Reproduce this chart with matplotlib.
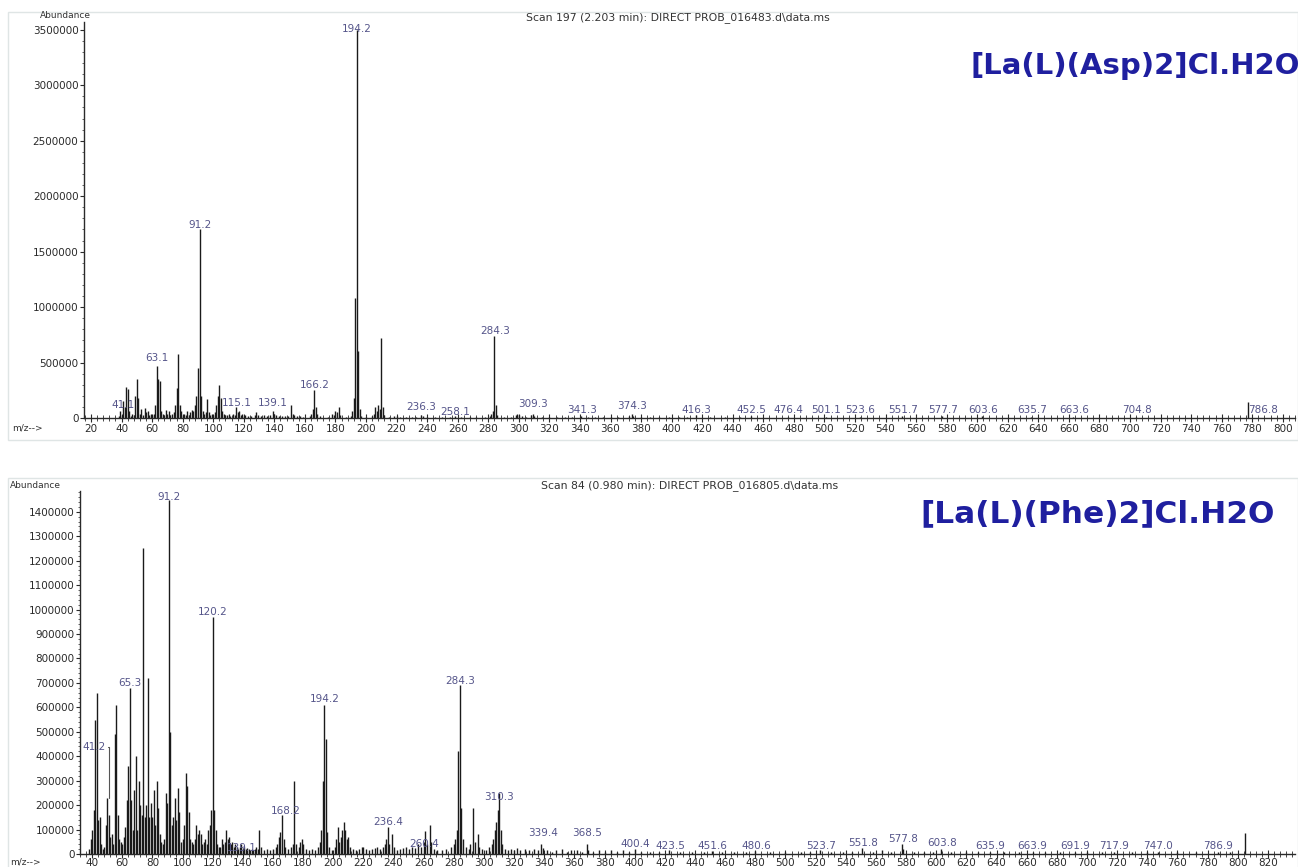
#!/usr/bin/env python3
"""Mass spectra of the two La(III) complexes, redrawn in ChemStation style."""

import matplotlib
matplotlib.use("Agg")
import matplotlib.pyplot as plt
from matplotlib.ticker import MultipleLocator, FormatStrFormatter
from matplotlib.patches import Rectangle

W, H = 1298, 867

# ---- [La(L)(Asp)2]Cl.H2O  (scan 197) ----
asp_title = "Scan 197 (2.203 min): DIRECT PROB_016483.d\\data.ms"
asp_name = "[La(L)(Asp)2]Cl.H2O"
asp_peaks = [
    (38, 20000), (39, 60000), (40, 30000), (41, 150000), (42, 100000), (43, 280000),
    (44, 260000), (45, 60000), (46, 20000), (47, 40000), (48, 30000), (49, 200000),
    (50, 350000), (51, 180000), (52, 40000), (53, 80000), (54, 30000), (55, 90000),
    (56, 50000), (57, 60000), (58, 30000), (59, 40000), (60, 30000), (61, 40000),
    (62, 120000), (63, 470000), (64, 350000), (65, 330000), (66, 60000), (67, 40000),
    (68, 30000), (69, 70000), (70, 40000), (71, 60000), (72, 30000), (73, 40000),
    (74, 50000), (75, 120000), (76, 270000), (77, 580000), (78, 120000), (79, 60000),
    (80, 30000), (81, 40000), (82, 30000), (83, 60000), (84, 30000), (85, 50000),
    (86, 70000), (87, 60000), (88, 120000), (89, 200000), (90, 450000), (91, 1700000),
    (92, 200000), (93, 60000), (94, 40000), (95, 50000), (96, 170000), (97, 50000),
    (98, 30000), (99, 40000), (100, 30000), (101, 50000), (102, 120000), (103, 200000),
    (104, 300000), (105, 180000), (106, 60000), (107, 40000), (108, 30000), (109, 30000),
    (110, 40000), (111, 20000), (113, 40000), (114, 30000), (115, 100000), (116, 50000),
    (117, 60000), (118, 30000), (119, 40000), (120, 20000), (121, 30000), (123, 15000),
    (125, 20000), (127, 30000), (128, 50000), (129, 30000), (131, 20000), (133, 25000),
    (135, 20000), (137, 30000), (139, 60000), (140, 40000), (141, 30000), (143, 15000),
    (145, 20000), (147, 15000), (149, 20000), (151, 120000), (152, 40000), (153, 30000),
    (155, 20000), (157, 15000), (159, 10000), (163, 20000), (164, 40000), (165, 80000),
    (166, 250000), (167, 100000), (168, 40000), (170, 15000), (175, 10000), (178, 40000),
    (179, 30000), (180, 60000), (181, 50000), (182, 100000), (183, 30000), (187, 10000),
    (190, 20000), (191, 60000), (192, 180000), (193, 1080000), (194, 3500000),
    (195, 600000), (196, 80000), (197, 20000), (200, 10000), (204, 20000), (205, 40000),
    (206, 100000), (207, 60000), (208, 120000), (209, 80000), (210, 720000),
    (211, 100000), (212, 30000), (215, 10000), (218, 20000), (220, 15000), (222, 10000),
    (226, 8000), (230, 10000), (233, 8000), (236, 30000), (237, 15000), (240, 10000),
    (245, 8000), (250, 10000), (255, 8000), (258, 15000), (262, 8000), (268, 10000),
    (272, 8000), (278, 10000), (281, 20000), (282, 40000), (283, 60000), (284, 740000),
    (285, 120000), (286, 30000), (290, 8000), (295, 10000), (298, 30000), (299, 40000),
    (300, 30000), (302, 15000), (305, 10000), (308, 30000), (309, 40000), (310, 20000),
    (315, 8000), (320, 10000), (325, 8000), (330, 10000), (335, 8000), (341, 15000),
    (345, 8000), (350, 10000), (355, 8000), (360, 10000), (365, 8000), (372, 20000),
    (374, 40000), (375, 20000), (380, 8000), (386, 8000), (392, 10000), (398, 8000),
    (405, 8000), (410, 10000), (416, 30000), (425, 8000), (435, 8000), (445, 8000),
    (452, 15000), (476, 10000), (501, 10000), (523, 10000), (551, 15000), (577, 15000),
    (603, 15000), (635, 10000), (663, 10000), (704, 10000), (777, 140000),
]
asp_labels = [
    ("41.1", 117000), ("63.1", 540000), ("91.2", 1740000), ("115.1", 135000),
    ("139.1", 135000), ("166.2", 297000), ("194.2", 3510000), ("236.3", 100000),
    ("258.1", 54000), ("284.3", 784000), ("309.3", 126000), ("341.3", 72000),
    ("374.3", 108000), ("416.3", 72000), ("452.5", 72000), ("476.4", 72000),
    ("501.1", 72000), ("523.6", 72000), ("551.7", 72000), ("577.7", 72000),
    ("603.6", 72000), ("635.7", 72000), ("663.6", 72000), ("704.8", 72000),
    ("786.8", 72000),
]

# ---- [La(L)(Phe)2]Cl.H2O  (scan 84) ----
phe_title = "Scan 84 (0.980 min): DIRECT PROB_016805.d\\data.ms"
phe_name = "[La(L)(Phe)2]Cl.H2O"
phe_peaks = [
    (38, 20000), (39, 60000), (40, 100000), (41, 180000), (42, 550000), (43, 660000),
    (44, 140000), (45, 150000), (46, 40000), (47, 20000), (48, 30000), (49, 120000),
    (50, 230000), (51, 160000), (52, 70000), (53, 80000), (54, 40000), (55, 490000),
    (56, 610000), (57, 160000), (58, 60000), (59, 50000), (60, 40000), (61, 70000),
    (62, 110000), (63, 220000), (64, 360000), (65, 680000), (66, 220000), (67, 100000),
    (68, 260000), (69, 400000), (70, 100000), (71, 300000), (72, 200000), (73, 160000),
    (74, 1250000), (75, 150000), (76, 200000), (77, 720000), (78, 150000), (79, 210000),
    (80, 150000), (81, 260000), (82, 120000), (83, 300000), (84, 190000), (85, 80000),
    (86, 50000), (87, 40000), (88, 60000), (89, 250000), (90, 210000), (91, 1450000),
    (92, 500000), (93, 120000), (94, 150000), (95, 230000), (96, 140000), (97, 270000),
    (98, 170000), (99, 50000), (100, 60000), (101, 120000), (102, 330000), (103, 280000),
    (104, 170000), (105, 60000), (106, 50000), (107, 40000), (108, 60000), (109, 120000),
    (110, 80000), (111, 100000), (112, 80000), (113, 40000), (114, 50000), (115, 60000),
    (116, 40000), (117, 100000), (118, 120000), (119, 180000), (120, 970000),
    (121, 180000), (122, 100000), (123, 40000), (124, 30000), (125, 30000), (126, 60000),
    (127, 40000), (128, 50000), (129, 100000), (130, 60000), (131, 70000), (132, 40000),
    (133, 50000), (134, 30000), (135, 40000), (136, 30000), (137, 20000), (138, 30000),
    (139, 40000), (140, 25000), (141, 30000), (142, 20000), (143, 25000), (144, 20000),
    (145, 15000), (146, 20000), (147, 15000), (148, 20000), (149, 30000), (150, 20000),
    (151, 100000), (152, 30000), (154, 15000), (156, 20000), (158, 15000), (160, 20000),
    (162, 30000), (163, 40000), (164, 70000), (165, 90000), (166, 160000), (167, 60000),
    (168, 30000), (170, 20000), (172, 30000), (173, 40000), (174, 300000), (175, 40000),
    (177, 30000), (178, 50000), (179, 60000), (180, 40000), (182, 20000), (184, 15000),
    (186, 20000), (188, 15000), (190, 30000), (191, 50000), (192, 100000), (193, 300000),
    (194, 610000), (195, 470000), (196, 90000), (197, 30000), (199, 15000), (201, 30000),
    (202, 60000), (203, 110000), (204, 50000), (205, 70000), (206, 100000), (207, 130000),
    (208, 100000), (209, 60000), (210, 70000), (211, 30000), (213, 20000), (215, 15000),
    (217, 20000), (219, 30000), (220, 30000), (222, 20000), (224, 15000), (226, 20000),
    (228, 25000), (229, 30000), (231, 20000), (233, 30000), (234, 40000), (235, 60000),
    (236, 110000), (237, 40000), (239, 80000), (240, 30000), (242, 15000), (244, 20000),
    (246, 25000), (248, 30000), (250, 20000), (252, 30000), (254, 25000), (256, 40000),
    (258, 30000), (260, 50000), (261, 95000), (262, 40000), (264, 120000), (265, 50000),
    (267, 20000), (269, 15000), (272, 15000), (275, 20000), (278, 30000), (280, 40000),
    (281, 60000), (282, 100000), (283, 420000), (284, 690000), (285, 190000),
    (286, 60000), (288, 30000), (290, 20000), (291, 40000), (293, 190000), (294, 50000),
    (296, 80000), (297, 30000), (299, 20000), (301, 15000), (303, 30000), (305, 40000),
    (306, 60000), (307, 100000), (308, 130000), (309, 180000), (310, 250000),
    (311, 100000), (312, 40000), (314, 20000), (316, 15000), (318, 20000), (320, 15000),
    (322, 25000), (324, 15000), (327, 20000), (330, 15000), (333, 20000), (336, 15000),
    (338, 40000), (339, 25000), (342, 15000), (345, 10000), (348, 15000), (352, 20000),
    (355, 10000), (358, 15000), (362, 15000), (365, 10000), (368, 40000), (369, 15000),
    (372, 10000), (376, 15000), (380, 10000), (384, 15000), (388, 10000), (392, 15000),
    (396, 10000), (400, 20000), (404, 10000), (410, 10000), (416, 8000), (423, 15000),
    (430, 8000), (438, 8000), (446, 8000), (451, 12000), (458, 8000), (466, 8000),
    (474, 8000), (480, 12000), (490, 8000), (500, 8000), (510, 8000), (516, 8000),
    (523, 15000), (530, 8000), (538, 10000), (544, 8000), (551, 25000), (558, 10000),
    (564, 15000), (570, 10000), (577, 40000), (578, 20000), (585, 10000), (592, 8000),
    (598, 10000), (603, 20000), (610, 8000), (620, 8000), (628, 8000), (636, 10000),
    (645, 8000), (655, 8000), (664, 10000), (672, 8000), (682, 8000), (692, 8000),
    (700, 8000), (710, 8000), (718, 8000), (730, 8000), (740, 8000), (747, 8000),
    (760, 8000), (772, 8000), (787, 8000), (795, 8000), (805, 85000),
]
phe_labels = [
    ("65.3", 700000), ("91.2", 1460000), ("120.2", 989000), ("139.1", 25000),
    ("168.2", 175000), ("194.2", 633000), ("236.4", 130000), ("260.4", 40000),
    ("284.3", 706000), ("310.3", 232000), ("339.4", 86000), ("368.5", 86000),
    ("400.4", 40000), ("423.5", 33000), ("451.6", 33000), ("480.6", 33000),
    ("523.7", 33000), ("551.8", 45000), ("577.8", 60000), ("603.8", 45000),
    ("635.9", 33000), ("663.9", 33000), ("691.9", 33000), ("717.9", 33000),
    ("747.0", 33000), ("786.9", 33000),
]

LABEL_COLOR = "#55558a"
NAME_COLOR = "#1f1f9f"
AXIS_COLOR = "#2a2a2a"


def px(x, y):
    return x / W, 1 - y / H


def draw_spectrum(ax, peaks, labels, xlim, ylim, ystep, xticks):
    mz, ab = zip(*peaks)
    ax.vlines(mz, 0, ab, color="#1a1a1a", lw=1.0)
    for text, y in labels:
        ax.text(float(text), y, text, ha="center", va="center",
                fontsize=7.5, color=LABEL_COLOR)
    ax.set_xlim(*xlim)
    ax.set_ylim(*ylim)
    for s in ("top", "right"):
        ax.spines[s].set_visible(False)
    for s in ("left", "bottom"):
        ax.spines[s].set_color(AXIS_COLOR)
        ax.spines[s].set_linewidth(1.0)
    ax.set_xticks(xticks)
    ax.xaxis.set_minor_locator(MultipleLocator(4))
    ax.yaxis.set_major_locator(MultipleLocator(ystep))
    ax.yaxis.set_minor_locator(MultipleLocator(ystep / 5))
    ax.yaxis.set_major_formatter(FormatStrFormatter("%d"))
    ax.tick_params(axis="x", which="major", direction="inout", length=6,
                   width=0.8, labelsize=7.5, pad=1, colors=AXIS_COLOR)
    ax.tick_params(axis="x", which="minor", direction="inout", length=4,
                   width=0.6, colors=AXIS_COLOR)
    ax.tick_params(axis="y", which="major", direction="out", length=3,
                   width=0.8, labelsize=7.5, pad=1, colors=AXIS_COLOR)
    ax.tick_params(axis="y", which="minor", direction="out", length=1.5,
                   width=0.5, colors=AXIS_COLOR)


fig = plt.figure(figsize=(W / 100, H / 100), dpi=100)

# light panel frames
fig.patches.append(Rectangle(px(8, 440), (W - 8) / W, 428 / H,
                             transform=fig.transFigure, fill=False,
                             edgecolor="#dfe5e5", lw=1.0))
fig.patches.append(Rectangle(px(8, 870), (W - 8) / W, 392 / H,
                             transform=fig.transFigure, fill=False,
                             edgecolor="#dfe5e5", lw=1.0))

# top panel
ax1 = fig.add_axes([84 / W, 1 - 418 / H, (1295 - 84) / W, (418 - 22) / H])
draw_spectrum(ax1, asp_peaks, asp_labels, (15.4, 808), (0, 3.571e6), 500000,
              list(range(20, 801, 20)))

# bottom panel
ax2 = fig.add_axes([80 / W, 1 - 854 / H, (1295 - 80) / W, (854 - 491) / H])
draw_spectrum(ax2, phe_peaks, phe_labels, (32, 838), (0, 1.485e6), 100000,
              list(range(40, 821, 20)))
ax2.tick_params(axis="x", which="major", pad=0)
ax2.annotate("41.2", xy=(51, 230000), xytext=(41.2, 437000), ha="center",
             va="center", fontsize=7.5, color=LABEL_COLOR,
             arrowprops=dict(arrowstyle="-", color="#555555", lw=0.8,
                             connectionstyle="angle,angleA=0,angleB=90,rad=0",
                             shrinkA=0, shrinkB=0))

# panel texts
for (x, y), s in [((40, 16), "Abundance"), ((12, 428), "m/z-->"),
                  ((10, 485), "Abundance"), ((10, 862), "m/z-->")]:
    fig.text(*px(x, y), s, fontsize=6.5, color="#333333", va="center")
fig.text(*px(678, 18), asp_title, fontsize=7.8, color="#333333", ha="center", va="center")
fig.text(*px(690, 486), phe_title, fontsize=7.8, color="#333333", ha="center", va="center")
fig.text(*px(970, 66), asp_name, fontsize=21, fontweight="bold",
         color=NAME_COLOR, va="center")
fig.text(*px(920, 514), phe_name, fontsize=22.5, fontweight="bold",
         color=NAME_COLOR, va="center")

fig.savefig("out.png", dpi=100)
